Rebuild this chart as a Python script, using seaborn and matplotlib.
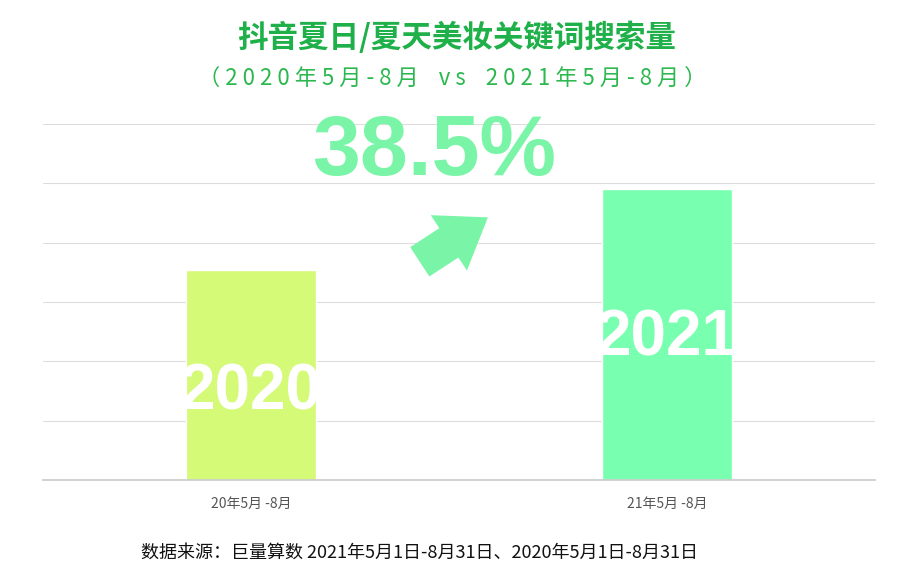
import matplotlib
matplotlib.use("Agg")
import matplotlib.pyplot as plt
import seaborn as sns
import pandas as pd
from matplotlib.patches import FancyArrowPatch

categories = ["20年5月 -8月", "21年5月 -8月"]
values = [3.54, 4.90]
bar_labels = ["2020", "2021"]
colors = ["#d4fa78", "#78ffb0"]

sns.set_theme(style="white")
plt.rcParams['font.family'] = ['Noto Sans CJK SC', 'DejaVu Sans']
narrow = ['Liberation Sans Narrow', 'Liberation Sans']

fig = plt.figure(figsize=(9.04, 5.84), dpi=100)
ax = fig.add_axes([0.0476, 0.178, 0.9204, 0.61])
df = pd.DataFrame({"cat": categories, "val": values})
sns.barplot(data=df, x="cat", y="val", hue="cat", palette=colors, width=0.3125,
            legend=False, ax=ax, saturation=1)
ax.set_xlim(-0.5, 1.5)
ax.set_ylim(0, 6)
ax.set_yticks(range(0, 7))
ax.yaxis.grid(True, color="#dddddd", linewidth=0.8)
ax.set_axisbelow(True)
ax.tick_params(axis="y", left=False, labelleft=False)
ax.tick_params(axis="x", bottom=False, labelsize=10, colors="#555555", pad=6)
ax.set_xlabel(""); ax.set_ylabel("")
for s in ["left", "right", "top"]:
    ax.spines[s].set_visible(False)
ax.spines["bottom"].set_color("#cccccc")

ax.text(0, 1.47, bar_labels[0], ha="center", va="center", color="white",
        fontsize=46, fontweight="bold", family=narrow)
ax.text(1, 2.39, bar_labels[1], ha="center", va="center", color="white",
        fontsize=46, fontweight="bold", family=narrow)

ax.text(0.44, 5.5, "38.5%", ha="center", va="center", color="#7af5a8",
        fontsize=62, fontweight="bold", family=narrow, clip_on=False)
arr = FancyArrowPatch((0.40, 3.65), (0.575, 4.45),
                      arrowstyle="simple,head_width=3.4,head_length=2.4,tail_width=1.8",
                      mutation_scale=14, color="#7af5a8", lw=0)
ax.add_patch(arr)

fig.text(0.505, 0.935, "抖音夏日/夏天美妆关键词搜索量", ha="center", va="center",
         color="#1fb04a", fontsize=22, fontweight="bold")
fig.text(0.5, 0.866, "（ 2 0 2 0 年 5 月 - 8 月    v s    2 0 2 1 年 5 月 - 8 月 ）",
         ha="center", va="center", color="#2cb84f", fontsize=16)
fig.text(0.464, 0.053, "数据来源：巨量算数 2021年5月1日-8月31日、2020年5月1日-8月31日",
         ha="center", va="center", color="#111111", fontsize=13)

fig.savefig("out.png", dpi=100)
